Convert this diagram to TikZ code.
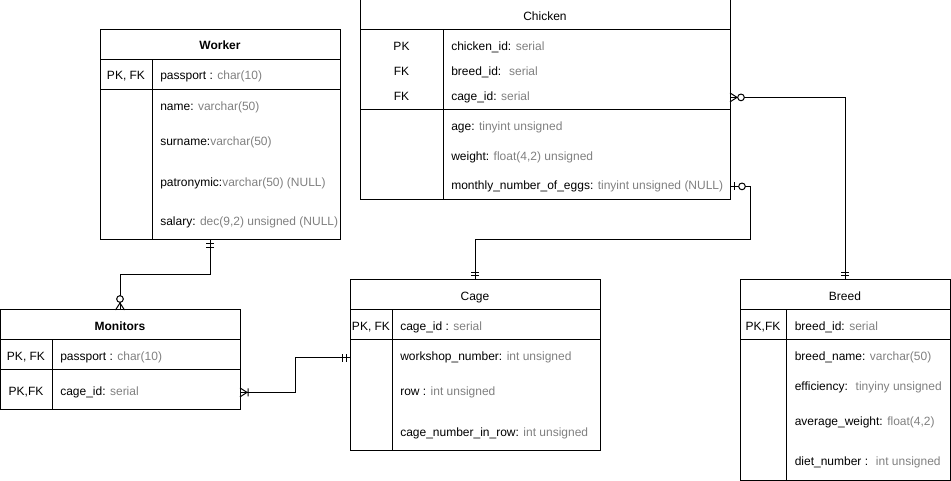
\documentclass[tikz,border=0pt]{standalone}
\usepackage{fontspec}
\setmainfont{Liberation Sans}
\usepackage{tikz}
\usetikzlibrary{calc}
\definecolor{typegray}{HTML}{808080}
\newcommand{\ftype}[1]{\textcolor{typegray}{#1}}
\tikzset{
      tablebox/.style={draw, line width=0.75pt, inner sep=0pt, outer sep=0pt},   % Outer frame of a table
      tabletitle/.style={anchor=base, inner sep=0pt, yshift=-0.75pt, font=\fontsize{9}{11}\selectfont},
      keycol/.style={anchor=base, inner sep=0pt, yshift=-0.75pt, font=\fontsize{9}{11}\selectfont},
      field/.style={anchor=base west, inner sep=0pt, yshift=-0.75pt, font=\fontsize{9}{11}\selectfont},
      rel/.style={line width=0.75pt},
      % Crow's foot ends, drawn outward along +x from the table border
      one only/.pic={
                  \draw[line width=0.75pt] (4,-4) -- (4,4) (7.5,-4) -- (7.5,4);
            },
      zero many/.pic={
                  \draw[line width=0.75pt] (0,-4.5) -- (7,0) -- (0,4.5);
                  \draw[line width=0.75pt, fill=white] (11,0) circle (2.5pt);
            },
      one many/.pic={
                  \draw[line width=0.75pt] (0,-4.5) -- (7,0) -- (0,4.5) (8,-4) -- (8,4);
            },
      zero one/.pic={
                  \draw[line width=0.75pt] (4,-4) -- (4,4);
                  \draw[line width=0.75pt, fill=white] (12,0) circle (2.5pt);
            }
}

\begin{document}
\begin{tikzpicture}[x=0.75pt, y=-0.75pt]
                  \useasboundingbox (0,0) rectangle (951,481);

                  % Worker
                  \node[tablebox, minimum width=180pt, minimum height=157.5pt] (worker) at (220,135) {};
                  \draw[rel] (100,60) -- (340,60) (100,90) -- (340,90) (152,60) -- (152,240);
                  \node[tabletitle] (w-title) at (220,49) {\bfseries Worker};
                  \node[keycol] (w-key) at (126,79) {PK, FK};
                  \node[field] (w-pass) at (160,79) {passport : \ftype{char(10)}};
                  \node[field] (w-name) at (160,110) {name: \ftype{varchar(50)}};
                  \node[field] (w-surname) at (160,145) {surname:\ftype{varchar(50)}};
                  \node[field] (w-patr) at (160,186) {patronymic:\ftype{varchar(50) (NULL)}};
                  \node[field] (w-salary) at (160,225) {salary: \ftype{dec(9,2) unsigned (NULL)}};

                  % Chicken
                  \node[tablebox, minimum width=277.5pt, minimum height=150pt] (chicken) at (545,100) {};
                  \draw[rel] (360,30) -- (730,30) (360,110) -- (730,110) (443,30) -- (443,200);
                  \node[tabletitle] (ch-title) at (545,20) {Chicken};
                  \node[keycol] (ch-k1) at (401.5,49.5) {PK};
                  \node[keycol] (ch-k2) at (401.5,74.5) {FK};
                  \node[keycol] (ch-k3) at (401.5,99.5) {FK};
                  \node[field] (ch-id) at (451,49.5) {chicken\_id: \ftype{serial}};
                  \node[field] (ch-breed) at (451,74.5) {breed\_id: \ \ftype{serial}};
                  \node[field] (ch-cage) at (451,99.5) {cage\_id: \ftype{serial}};
                  \node[field] (ch-age) at (451,130) {age: \ftype{tinyint unsigned}};
                  \node[field] (ch-weight) at (451,159.5) {weight: \ftype{float(4,2) unsigned}};
                  \node[field] (ch-eggs) at (451,188.5) {monthly\_number\_of\_eggs: \ftype{tinyint unsigned (NULL)}};

                  % Monitors
                  \node[tablebox, minimum width=180pt, minimum height=75pt] (monitors) at (120,360) {};
                  \draw[rel] (0,340) -- (240,340) (0,370) -- (240,370) (52,340) -- (52,410);
                  \node[tabletitle] (m-title) at (120,329.5) {\bfseries Monitors};
                  \node[keycol] (m-k1) at (26,360) {PK, FK};
                  \node[keycol] (m-k2) at (26,394.5) {PK,FK};
                  \node[field] (m-pass) at (60,360) {passport : \ftype{char(10)}};
                  \node[field] (m-cage) at (60,394.5) {cage\_id: \ftype{serial}};

                  % Cage
                  \node[tablebox, minimum width=187.5pt, minimum height=127.5pt] (cage) at (475,365) {};
                  \draw[rel] (350,310) -- (600,310) (350,340) -- (600,340) (392,310) -- (392,450);
                  \node[tabletitle] (c-title) at (475,299.5) {Cage};
                  \node[keycol] (c-key) at (371,330) {PK, FK};
                  \node[field] (c-id) at (400,330) {cage\_id : \ftype{serial}};
                  \node[field] (c-work) at (400,360) {workshop\_number: \ftype{int unsigned}};
                  \node[field] (c-row) at (400,395) {row : \ftype{int unsigned}};
                  \node[field] (c-num) at (400,435) {cage\_number\_in\_row: \ftype{int unsigned}};

                  % Breed
                  \node[tablebox, minimum width=157.5pt, minimum height=150pt] (breed) at (845,380) {};
                  \draw[rel] (740,310) -- (950,310) (740,340) -- (950,340) (786,310) -- (786,480);
                  \node[tabletitle] (b-title) at (845,300) {Breed};
                  \node[keycol] (b-key) at (763,330) {PK,FK};
                  \node[field] (b-id) at (794.5,330) {breed\_id: \ftype{serial}};
                  \node[field] (b-name) at (794.5,360) {breed\_name: \ftype{varchar(50)}};
                  \node[field] (b-eff) at (794.5,389.5) {efficiency: \ \ftype{tinyiny unsigned}};
                  \node[field] (b-avg) at (794.5,425) {average\_weight: \ftype{float(4,2)}};
                  \node[field] (b-diet) at (794.5,464) {diet\_number : \ \ftype{int unsigned}};

                  % relations
                  \draw[rel] ($(worker.south)+(-10,0)$) -- ++(0,35) -| (monitors.north);
                  \draw[rel] (monitors.east |- m-cage) -- ++(55,0) |- (cage.west |- c-work);
                  \draw[rel] (chicken.east |- ch-cage) -| (breed.north);
                  \draw[rel] (chicken.east |- ch-eggs) -- ++(20,0) |- ($(cage.north)+(0,-40)$) -- (cage.north);

                  \pic[rotate=-90] at ($(worker.south)+(-10,0)$) {one only};
                  \pic[rotate=90] at (monitors.north) {zero many};
                  \pic at (monitors.east |- m-cage) {one many};
                  \pic[rotate=180] at (cage.west |- c-work) {one only};
                  \pic at (chicken.east |- ch-cage) {zero many};
                  \pic[rotate=90] at (breed.north) {one only};
                  \pic at (chicken.east |- ch-eggs) {zero one};
                  \pic[rotate=90] at (cage.north) {one only};

            \end{tikzpicture}
\end{document}
